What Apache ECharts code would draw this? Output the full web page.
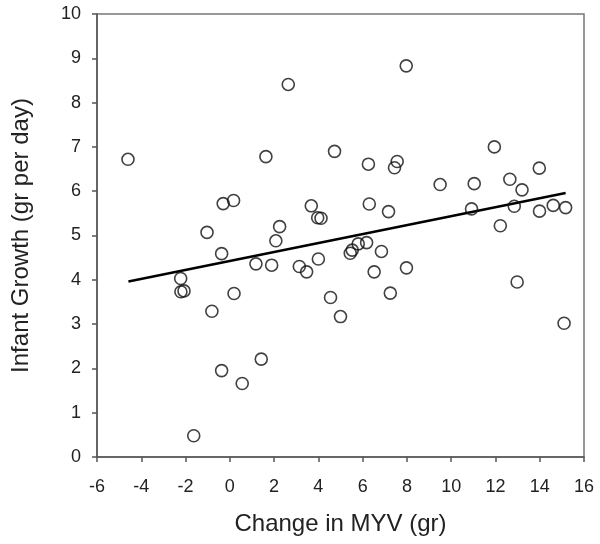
<!DOCTYPE html>
<html>
<head>
<meta charset="utf-8">
<script src="https://cdn.jsdelivr.net/npm/echarts@6/dist/echarts.min.js"></script>
<style>html,body{margin:0;padding:0;background:#fff}#c{width:600px;height:544px}</style>
</head>
<body>
<div id="c"></div>
<script>
var mvyChange = [-4.60,2.64,1.63,4.73,-0.30,0.17,-1.03,2.25,3.68,3.97,4.12,2.08,7.97,6.26,7.56,7.44,11.95,13.98,9.50,11.04,12.65,13.20,6.30,7.17,10.92,12.85,13.99,14.61,15.17,12.22,-0.37,-2.22,-2.21,-2.07,0.19,-0.81,1.18,1.89,3.14,3.47,4.00,4.55,5.00,-0.37,1.42,0.56,-1.63,5.44,5.53,5.80,6.18,6.85,6.52,7.98,7.25,12.98,15.10];
var infantGrowth = [6.72,8.41,6.78,6.90,5.72,5.79,5.07,5.20,5.67,5.40,5.39,4.88,8.83,6.61,6.67,6.53,7.00,6.52,6.15,6.17,6.27,6.03,5.71,5.54,5.60,5.66,5.55,5.68,5.63,5.22,4.59,4.03,3.73,3.75,3.69,3.29,4.36,4.33,4.30,4.18,4.47,3.60,3.17,1.95,2.21,1.66,0.48,4.60,4.67,4.81,4.84,4.64,4.18,4.27,3.70,3.95,3.02];
var fitX = [-4.58, 15.17];
var fitY = [3.96, 5.96];
var xTicks = [-6,-4,-2,0,2,4,6,8,10,12,14,16];
var yTicks = [0,1,2,3,4,5,6,7,8,9,10];

var pts = mvyChange.map(function(x,i){return [x, infantGrowth[i]];});
var fit = fitX.map(function(x,i){return [x, fitY[i]];});

var chart = echarts.init(document.getElementById('c'));
var axisCol = '#555';
chart.setOption({
  animation: false,
  backgroundColor: '#fff',
  grid: {left: 97, right: 16, top: 14, bottom: 87, show: true, borderColor: '#777', borderWidth: 1.5},
  xAxis: {
    type: 'value', min: xTicks[0], max: xTicks[xTicks.length-1], interval: 2,
    name: 'Change in MYV (gr)', nameLocation: 'middle', nameGap: 55,
    nameTextStyle: {fontFamily: 'Liberation Sans', fontSize: 24, color: '#222'},
    axisLine: {show: true, onZero: false, lineStyle: {color: axisCol, width: 1.5}},
    axisTick: {show: true, inside: false, length: 5, lineStyle: {color: axisCol, width: 1.5}},
    axisLabel: {fontFamily: 'Liberation Sans', fontSize: 18, color: '#222', margin: 21},
    splitLine: {show: false}
  },
  yAxis: {
    type: 'value', min: yTicks[0], max: yTicks[yTicks.length-1], interval: 1,
    name: 'Infant Growth (gr per day)', nameLocation: 'middle', nameGap: 64,
    nameTextStyle: {fontFamily: 'Liberation Sans', fontSize: 24, color: '#222'},
    axisLine: {show: true, onZero: false, lineStyle: {color: axisCol, width: 1.5}},
    axisTick: {show: true, inside: false, length: 5, lineStyle: {color: axisCol, width: 1.5}},
    axisLabel: {fontFamily: 'Liberation Sans', fontSize: 18, color: '#222', margin: 16},
    splitLine: {show: false}
  },
  series: [
    {
      type: 'scatter', data: pts, symbol: 'circle', symbolSize: 12,
      itemStyle: {color: 'rgba(255,255,255,0)', borderColor: '#111', borderWidth: 1.6},
      z: 3
    },
    {
      type: 'line', data: fit, showSymbol: false, symbol: 'none',
      lineStyle: {color: '#000', width: 2.5}, z: 2
    }
  ]
});
</script>
</body>
</html>
